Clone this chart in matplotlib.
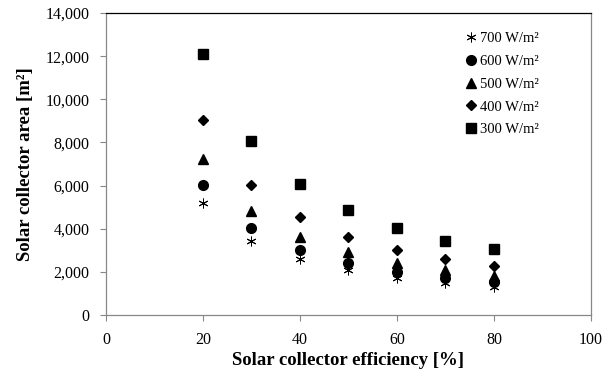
import matplotlib.pyplot as plt
from matplotlib.ticker import FuncFormatter

plt.rcParams['font.family'] = ['Liberation Serif', 'DejaVu Serif']

# data
efficiency = [20, 30, 40, 50, 60, 70, 80]
area_700 = [5180, 3450, 2590, 2070, 1730, 1480, 1290]
area_600 = [6040, 4030, 3020, 2420, 2010, 1730, 1510]
area_500 = [7250, 4830, 3620, 2900, 2420, 2070, 1810]
area_400 = [9060, 6030, 4530, 3620, 3020, 2590, 2270]
area_300 = [12100, 8050, 6050, 4850, 4050, 3450, 3050]
labels = ['700 W/m\u00b2', '600 W/m\u00b2', '500 W/m\u00b2', '400 W/m\u00b2', '300 W/m\u00b2']

fig = plt.figure(figsize=(6.06, 3.74), dpi=100)
ax = fig.add_axes([0.175, 0.158, 0.8, 0.807])

series = [area_700, area_600, area_500, area_400, area_300]
markers = [('x', 7), ('o', 7), ('^', 7), ('D', 5.5), ('s', 6.5)]
for values, label, (m, s) in zip(series, labels, markers):
    if m == 'x':
        # asterisk-like marker
        ax.plot(efficiency, values, linestyle='none', marker=(6, 2, 0), markersize=s,
                color='black', markeredgewidth=0.7, label=label)
    else:
        ax.plot(efficiency, values, linestyle='none', marker=m, markersize=s,
                color='black', label=label)

ax.set_xlim(0, 100)
ax.set_ylim(0, 14000)
ax.set_xticks(range(0, 101, 20))
ax.set_yticks(range(0, 14001, 2000))
ax.yaxis.set_major_formatter(FuncFormatter(lambda v, p: '{:,.0f}'.format(v)))
ax.tick_params(direction='out', length=4, color='#888888', labelsize=11.5, pad=8)

for side in ['left', 'bottom', 'right']:
    ax.spines[side].set_color('#888888')
ax.spines['top'].set_color('black')
for sp in ax.spines.values():
    sp.set_linewidth(0.9)

ax.set_xlabel('Solar collector efficiency [%]', fontsize=13.5, fontweight='bold', labelpad=3)
ax.set_ylabel('Solar collector area [m\u00b2]', fontsize=13.5, fontweight='bold', labelpad=8)

ax.legend(loc='upper right', bbox_to_anchor=(0.92, 0.98), frameon=False, fontsize=10.5,
          handletextpad=0.0, labelspacing=0.65, handlelength=1.2)

fig.savefig('out.png', dpi=100)
